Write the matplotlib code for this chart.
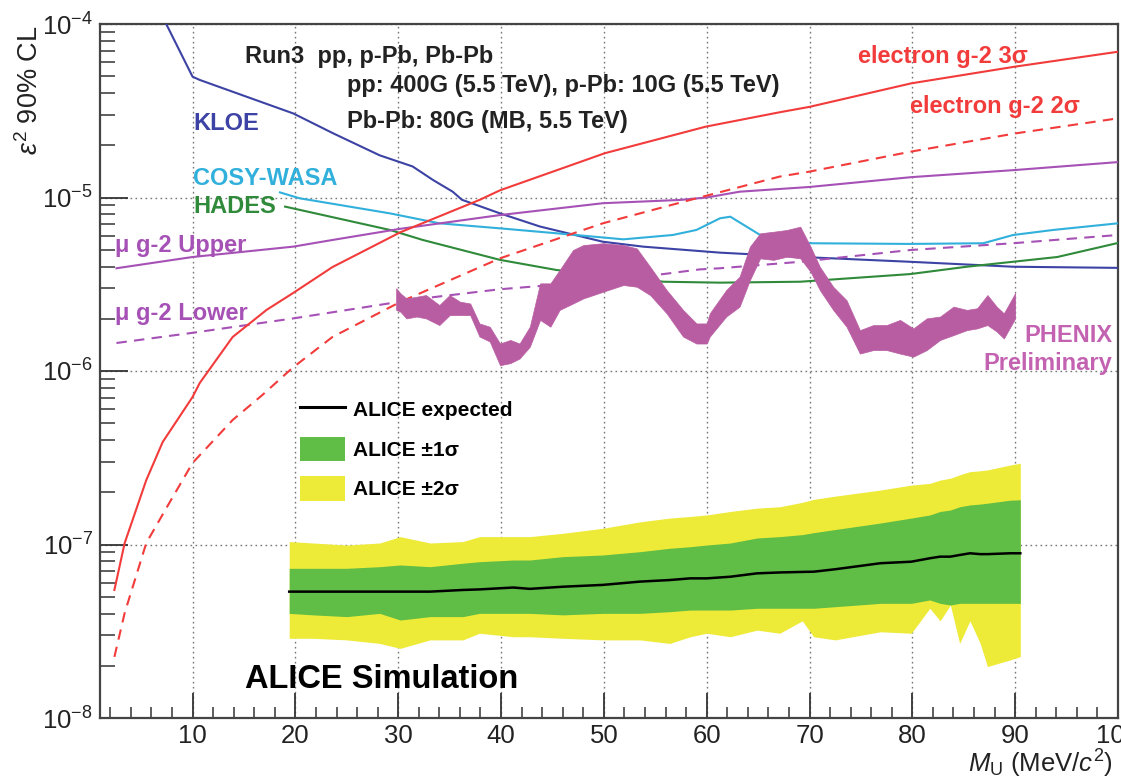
import matplotlib
matplotlib.use('Agg')
import matplotlib.pyplot as plt
import numpy as np
from matplotlib.lines import Line2D
from matplotlib.patches import Patch
from matplotlib.ticker import FixedLocator, MultipleLocator, NullFormatter, LogLocator

plt.rcParams['font.family'] = ['Liberation Sans', 'DejaVu Sans']
plt.rcParams['mathtext.fontset'] = 'custom'
plt.rcParams['mathtext.rm'] = 'Liberation Sans'
plt.rcParams['mathtext.it'] = 'Liberation Sans:italic'
plt.rcParams['mathtext.bf'] = 'Liberation Sans:bold'

# KLOE
kloe_x = [7.44, 10.0, 10.7, 19.8, 23.7, 28.2, 31.4, 33.4, 35.3, 36.2, 39.9, 43.8, 49.9, 53.8, 61.3, 70.0, 79.8, 89.8, 100.0]
kloe_y = [1.0e-4, 4.97e-5, 4.76e-5, 3.05e-5, 2.34e-5, 1.75e-5, 1.51e-5, 1.26e-5, 1.08e-5, 9.7e-6, 8.1e-6, 6.8e-6,
          5.56e-6, 5.21e-6, 4.81e-6, 4.52e-6, 4.26e-6, 3.99e-6, 3.93e-6]

# COSY-WASA
cosy_x = [18.5, 20.4, 29.2, 34.0, 39.9, 45.4, 51.9, 56.7, 59.0, 61.3, 62.3, 65.2, 70.0, 79.8, 86.9, 89.8, 93.7, 100.0]
cosy_y = [1.07e-5, 9.9e-6, 8.1e-6, 7.1e-6, 6.64e-6, 6.22e-6, 5.74e-6, 6.08e-6, 6.50e-6, 7.59e-6, 7.75e-6, 6.08e-6,
          5.45e-6, 5.40e-6, 5.45e-6, 6.08e-6, 6.5e-6, 7.1e-6]

# HADES
hades_x = [19.0, 29.2, 32.4, 39.9, 45.4, 55.8, 61.3, 69.1, 79.8, 85.3, 91.5, 94.1, 100.0]
hades_y = [8.86e-6, 6.50e-6, 5.69e-6, 4.37e-6, 3.82e-6, 3.27e-6, 3.23e-6, 3.27e-6, 3.62e-6, 3.99e-6, 4.37e-6, 4.54e-6, 5.47e-6]

# muon g-2
mu_up_x = [2.6, 10.0, 19.8, 23.6, 30.2, 39.9, 49.9, 57.4, 60.0, 63.2, 70.0, 79.9, 90.0, 100.0]
mu_up_y = [3.91e-6, 4.54e-6, 5.21e-6, 5.69e-6, 6.6e-6, 7.92e-6, 9.27e-6, 9.68e-6, 1.0e-5, 1.08e-5, 1.15e-5, 1.31e-5, 1.44e-5, 1.60e-5]
mu_lo_x = [2.6, 10.0, 19.8, 30.2, 32.4, 39.9, 43.8, 55.8, 59.3, 61.3, 69.1, 79.8, 89.8, 100.0]
mu_lo_y = [1.45e-6, 1.66e-6, 2.01e-6, 2.51e-6, 2.62e-6, 2.96e-6, 3.09e-6, 3.62e-6, 3.85e-6, 3.91e-6, 4.26e-6, 4.98e-6, 5.45e-6, 6.08e-6]

# electron g-2
e3_x = [2.4, 3.4, 5.5, 7.1, 10.0, 10.7, 13.9, 17.2, 19.8, 23.6, 30.2, 37.9, 39.9, 50.1, 59.9, 67.1, 70.0, 79.9, 90.0, 100.0]
e3_y = [5.47e-8, 1.02e-7, 2.35e-7, 3.90e-7, 7.08e-7, 8.53e-7, 1.57e-6, 2.25e-6, 2.82e-6, 3.97e-6, 6.30e-6, 9.68e-6,
        1.10e-5, 1.80e-5, 2.56e-5, 3.10e-5, 3.33e-5, 4.55e-5, 5.68e-5, 6.92e-5]
e2_x = [2.4, 3.4, 5.5, 7.5, 10.0, 13.9, 16.8, 19.7, 23.6, 30.2, 39.9, 49.9, 58.4, 67.1, 70.0, 79.9, 90.0, 100.0]
e2_y = [2.25e-8, 4.03e-8, 1.02e-7, 1.64e-7, 2.95e-7, 5.22e-7, 7.28e-7, 1.04e-6, 1.57e-6, 2.50e-6, 4.46e-6, 7.10e-6,
        9.68e-6, 1.32e-5, 1.41e-5, 1.84e-5, 2.34e-5, 2.86e-5]

# PHENIX preliminary band
phenix_x = [29.8, 30.2, 30.8, 31.8, 32.7, 34.0, 35.0, 36.0, 37.0, 37.9, 38.9, 39.9, 40.9, 41.8, 42.8, 43.8, 44.8, 45.7,
            47.0, 48.0, 49.9, 51.9, 53.2, 54.5, 56.1, 57.7, 59.0, 60.0, 60.3, 61.9, 63.2, 64.2, 65.2, 66.5, 67.8, 69.1,
            70.1, 71.0, 72.3, 73.6, 74.9, 76.2, 77.5, 78.8, 80.1, 81.4, 82.7, 84.0, 85.3, 86.3, 87.3, 88.2, 88.9, 90.0]
phenix_hi = [3.00e-6, 2.81e-6, 2.62e-6, 2.68e-6, 2.74e-6, 2.40e-6, 2.74e-6, 2.51e-6, 2.45e-6, 1.88e-6, 1.80e-6, 1.44e-6,
             1.51e-6, 1.44e-6, 1.80e-6, 3.20e-6, 3.20e-6, 3.82e-6, 4.98e-6, 5.32e-6, 5.45e-6, 5.32e-6, 5.09e-6, 3.99e-6,
             2.93e-6, 2.25e-6, 1.88e-6, 1.88e-6, 2.15e-6, 2.93e-6, 3.50e-6, 5.21e-6, 6.22e-6, 6.35e-6, 6.50e-6, 6.79e-6,
             5.21e-6, 3.99e-6, 3.06e-6, 2.56e-6, 1.72e-6, 1.84e-6, 1.84e-6, 1.97e-6, 1.76e-6, 2.01e-6, 2.06e-6, 2.35e-6,
             2.25e-6, 2.30e-6, 2.74e-6, 2.35e-6, 2.15e-6, 2.81e-6]
phenix_lo = [2.25e-6, 2.20e-6, 2.01e-6, 2.06e-6, 2.01e-6, 1.84e-6, 2.10e-6, 2.10e-6, 2.10e-6, 1.58e-6, 1.48e-6, 1.08e-6,
             1.11e-6, 1.18e-6, 1.38e-6, 1.97e-6, 1.80e-6, 2.25e-6, 2.45e-6, 2.62e-6, 2.86e-6, 3.13e-6, 3.06e-6, 2.74e-6,
             2.15e-6, 1.58e-6, 1.44e-6, 1.44e-6, 1.58e-6, 2.06e-6, 2.35e-6, 3.34e-6, 4.46e-6, 4.37e-6, 4.56e-6, 4.46e-6,
             3.73e-6, 2.93e-6, 2.25e-6, 1.80e-6, 1.26e-6, 1.32e-6, 1.32e-6, 1.26e-6, 1.21e-6, 1.32e-6, 1.51e-6, 1.61e-6,
             1.72e-6, 1.76e-6, 1.84e-6, 1.69e-6, 1.54e-6, 2.01e-6]

# ALICE expected sensitivity
alice_x = [19.4, 21.7, 25.0, 28.2, 30.2, 33.1, 36.3, 37.9, 41.2, 42.8, 46.0, 49.9, 53.5, 56.4, 58.4, 60.0, 62.3, 64.9,
           67.1, 69.3, 70.4, 72.5, 76.9, 79.9, 81.7, 82.7, 83.7, 84.6, 85.6, 86.6, 87.3, 89.5, 90.5]
alice_2s_hi = [1.04e-7, 1.02e-7, 9.93e-8, 1.02e-7, 1.11e-7, 1.02e-7, 1.04e-7, 1.11e-7, 1.11e-7, 1.11e-7, 1.16e-7, 1.24e-7,
               1.35e-7, 1.42e-7, 1.45e-7, 1.48e-7, 1.55e-7, 1.62e-7, 1.65e-7, 1.75e-7, 1.82e-7, 1.90e-7, 2.06e-7, 2.20e-7,
               2.25e-7, 2.35e-7, 2.41e-7, 2.52e-7, 2.63e-7, 2.66e-7, 2.69e-7, 2.87e-7, 2.94e-7]
alice_1s_hi = [7.29e-8, 7.29e-8, 7.29e-8, 7.45e-8, 7.62e-8, 7.45e-8, 7.80e-8, 7.96e-8, 8.14e-8, 8.14e-8, 8.51e-8, 8.70e-8,
               9.09e-8, 9.51e-8, 9.71e-8, 9.93e-8, 1.02e-7, 1.09e-7, 1.11e-7, 1.14e-7, 1.17e-7, 1.22e-7, 1.33e-7, 1.42e-7,
               1.48e-7, 1.55e-7, 1.58e-7, 1.65e-7, 1.69e-7, 1.71e-7, 1.73e-7, 1.80e-7, 1.81e-7]
alice_exp = [5.35e-8, 5.35e-8, 5.35e-8, 5.35e-8, 5.35e-8, 5.35e-8, 5.47e-8, 5.51e-8, 5.65e-8, 5.55e-8, 5.71e-8, 5.85e-8,
             6.11e-8, 6.24e-8, 6.38e-8, 6.38e-8, 6.52e-8, 6.82e-8, 6.90e-8, 6.95e-8, 6.97e-8, 7.20e-8, 7.80e-8, 7.96e-8,
             8.33e-8, 8.51e-8, 8.51e-8, 8.70e-8, 8.90e-8, 8.80e-8, 8.80e-8, 8.90e-8, 8.90e-8]
alice_1s_lo = [4.01e-8, 3.93e-8, 3.84e-8, 4.01e-8, 3.67e-8, 3.84e-8, 3.84e-8, 4.01e-8, 4.01e-8, 4.01e-8, 3.93e-8, 4.01e-8,
               4.01e-8, 4.10e-8, 4.19e-8, 4.19e-8, 4.19e-8, 4.29e-8, 4.29e-8, 4.29e-8, 4.29e-8, 4.38e-8, 4.58e-8, 4.58e-8,
               4.79e-8, 4.58e-8, 4.48e-8, 4.58e-8, 4.58e-8, 4.58e-8, 4.58e-8, 4.58e-8, 4.58e-8]
alice_2s_lo = [2.88e-8, 2.88e-8, 2.82e-8, 2.69e-8, 2.52e-8, 2.82e-8, 2.82e-8, 3.08e-8, 2.94e-8, 2.94e-8, 2.88e-8, 2.82e-8,
               2.82e-8, 2.69e-8, 2.94e-8, 3.08e-8, 2.94e-8, 3.21e-8, 3.08e-8, 3.63e-8, 2.94e-8, 2.82e-8, 3.14e-8, 3.08e-8,
               4.29e-8, 3.63e-8, 4.48e-8, 2.69e-8, 3.63e-8, 2.69e-8, 1.98e-8, 2.16e-8, 2.26e-8]

c_kloe = '#3c43a4'
c_cosy = '#31b0db'
c_hades = '#2f8a3a'
c_mu = '#a651b5'
c_el = '#f23b3b'
c_phenix = '#b95da3'
c_green = '#60bd45'
c_yellow = '#eeea38'

W, H = 1121, 779
fig = plt.figure(figsize=(W / 100, H / 100), dpi=100)
ax = fig.add_axes([100 / W, 61 / H, 1018 / W, 694 / H])


def axpos(xp, yp):
    # pixel position in the figure -> axes fraction
    return (xp - 100) / 1018, (718 - yp) / 694


ax.set_xscale('linear')
ax.set_yscale('log')
ax.set_xlim(1, 100)
ax.set_ylim(1e-8, 1e-4)

ax.fill_between(alice_x, alice_2s_lo, alice_2s_hi, color=c_yellow, lw=0, zorder=2)
ax.fill_between(alice_x, alice_1s_lo, alice_1s_hi, color=c_green, lw=0, zorder=3)
ax.plot(alice_x, alice_exp, color='black', lw=1.8, zorder=4)

ax.plot(kloe_x, kloe_y, color=c_kloe, lw=1.5, zorder=3)
ax.plot(cosy_x, cosy_y, color=c_cosy, lw=1.5, zorder=3)
ax.plot(hades_x, hades_y, color=c_hades, lw=1.5, zorder=3)
ax.plot(mu_up_x, mu_up_y, color=c_mu, lw=1.5, zorder=3)
ax.plot(mu_lo_x, mu_lo_y, color=c_mu, lw=1.5, ls=(0, (5, 3.5)), zorder=3)
ax.plot(e3_x, e3_y, color=c_el, lw=1.5, zorder=3)
ax.plot(e2_x, e2_y, color=c_el, lw=1.5, ls=(0, (5, 3.5)), zorder=3)

ax.fill_between(phenix_x, phenix_lo, phenix_hi, color=c_phenix, lw=0.5, edgecolor=c_phenix, zorder=5)

# axes styling
ax.xaxis.set_major_locator(FixedLocator([10, 20, 30, 40, 50, 60, 70, 80, 90, 100]))
ax.xaxis.set_minor_locator(MultipleLocator(2))
ax.yaxis.set_major_locator(LogLocator(base=10, numticks=10))
ax.yaxis.set_minor_locator(LogLocator(base=10, subs=np.arange(2, 10), numticks=20))
ax.yaxis.set_minor_formatter(NullFormatter())
ax.tick_params(axis='both', which='both', direction='in', top=False, right=False, colors='#333333')
ax.tick_params(axis='y', which='major', length=20, width=1.3, labelsize=18.5, pad=5, labelcolor='#222222')
ax.tick_params(axis='y', which='minor', length=11, width=1.1)
ax.tick_params(axis='x', which='major', length=18, width=1.3, labelsize=18.5, pad=4.5, labelcolor='#222222')
ax.tick_params(axis='x', which='minor', length=8, width=1.1)
for s in ax.spines.values():
    s.set_color('#444444')
    s.set_linewidth(1.6)
ax.grid(True, which='major', ls=(0, (1.2, 2.4)), color='#777777', lw=1.0)
ax.set_axisbelow(True)

# annotations
bold = dict(fontsize=17, fontweight='bold', transform=ax.transAxes, va='baseline', zorder=6)
ax.text(*axpos(245, 63), 'Run3  pp, p-Pb, Pb-Pb', color='#222222', **bold)
ax.text(*axpos(347, 92), 'pp: 400G (5.5 TeV), p-Pb: 10G (5.5 TeV)', color='#222222', **bold)
ax.text(*axpos(347, 128), 'Pb-Pb: 80G (MB, 5.5 TeV)', color='#222222', **bold)
ax.text(*axpos(193, 130), 'KLOE', color=c_kloe, **bold)
ax.text(*axpos(193, 185), 'COSY-WASA', color=c_cosy, **bold)
ax.text(*axpos(193, 213), 'HADES', color=c_hades, **bold)
ax.text(*axpos(115, 252), 'μ g-2 Upper', color=c_mu, **bold)
ax.text(*axpos(115, 320), 'μ g-2 Lower', color=c_mu, **bold)
ax.text(*axpos(858, 63), 'electron g-2 3σ', color=c_el, **bold)
ax.text(*axpos(910, 113), 'electron g-2 2σ', color=c_el, **bold)
ax.text(*axpos(1112, 342), 'PHENIX', color='#c462b2', ha='right', **bold)
ax.text(*axpos(1112, 370), 'Preliminary', color='#c462b2', ha='right', **bold)
ax.text(*axpos(245, 688), 'ALICE Simulation', color='black', fontsize=23.5, fontweight='bold',
        transform=ax.transAxes, va='baseline', zorder=6)

handles = [Line2D([], [], color='black', lw=2.2),
           Patch(facecolor=c_green, edgecolor='none'),
           Patch(facecolor=c_yellow, edgecolor='none')]
labels = ['ALICE expected', 'ALICE ±1σ', 'ALICE ±2σ']
ax.legend(handles, labels, loc='upper left', bbox_to_anchor=axpos(300, 397), frameon=False,
          handlelength=2.16, handleheight=1.44, handletextpad=0.38, labelspacing=0.72,
          borderpad=0, borderaxespad=0, prop=dict(weight='bold', size=15))

fig.text(30 / W, 1 - 25 / H, r'$\epsilon^{2}$ 90% CL', rotation=90, ha='center', va='top',
         fontsize=19.5, color='#222222')
fig.text(1113 / W, 1 - 773 / H, r'$M_{\rm U}$ (MeV/$c^{2}$)', ha='right', va='baseline',
         fontsize=18.5, color='#222222')

fig.savefig('out.png', dpi=100)
